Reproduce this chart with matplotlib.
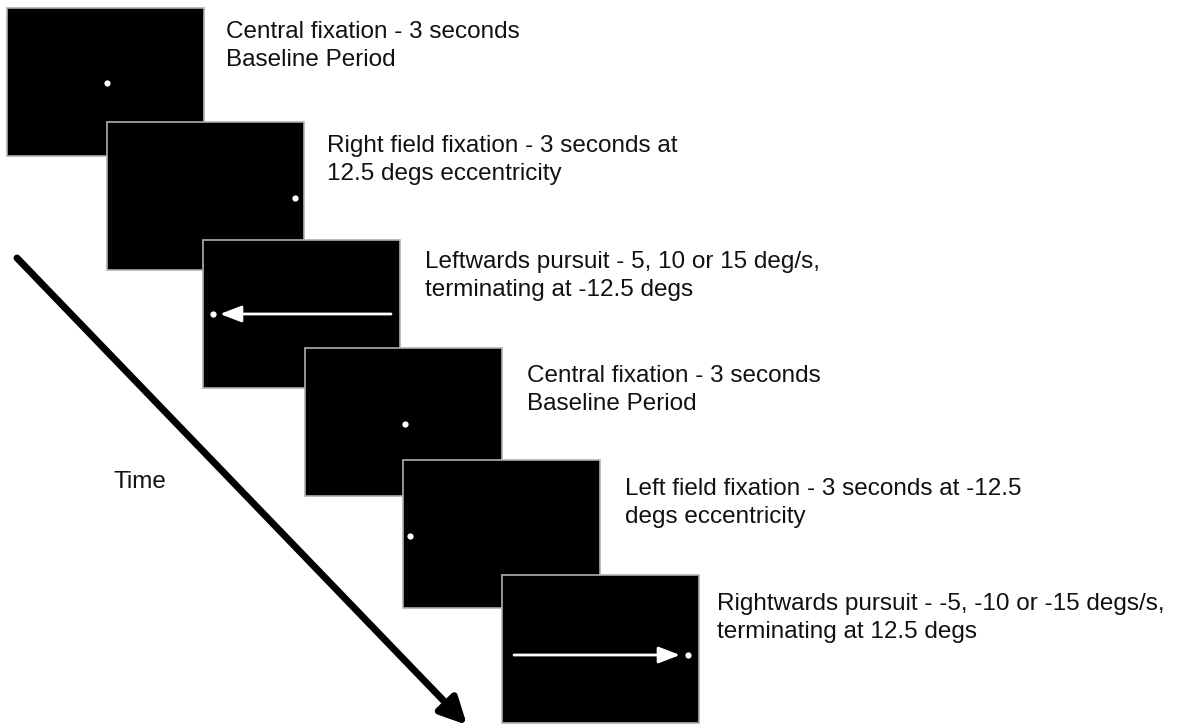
import matplotlib
matplotlib.use("Agg")
import matplotlib.pyplot as plt
from matplotlib.patches import Rectangle

plt.rcParams['font.family'] = ['Liberation Sans', 'DejaVu Sans']

# screen panels: top-left corner (px) of each stimulus frame
panel_x = [7, 107, 203, 305, 403, 502]
panel_y = [8, 122, 240, 348, 460, 575]
panel_w = 197
panel_h = 148

# target dot position in each frame
dot_x = [107, 295, 213, 405, 410, 688]
dot_y = [83, 198, 314, 424, 536, 655]

# pursuit arrows (start x, end x, y)
pursuit = [(391, 220, 314), (514, 680, 655)]

labels = [
    ("Central fixation - 3 seconds", "Baseline Period"),
    ("Right field fixation - 3 seconds at", "12.5 degs eccentricity"),
    ("Leftwards pursuit - 5, 10 or 15 deg/s,", "terminating at -12.5 degs"),
    ("Central fixation - 3 seconds", "Baseline Period"),
    ("Left field fixation - 3 seconds at -12.5", "degs eccentricity"),
    ("Rightwards pursuit - -5, -10 or -15 degs/s,", "terminating at 12.5 degs"),
]
label_x = [226, 327, 425, 527, 625, 717]
label_base = [38, 152, 268, 382, 495, 610]
line_gap = 28

fig = plt.figure(figsize=(11.8, 7.27), dpi=100)
ax = fig.add_axes([0, 0, 1, 1])
ax.set_xlim(0, 1180)
ax.set_ylim(727, 0)
ax.axis('off')

for i in range(len(panel_x)):
    ax.add_patch(Rectangle((panel_x[i], panel_y[i]), panel_w, panel_h,
                           facecolor='black', edgecolor='#b0b0b0', lw=1.2, zorder=2 + i))
    ax.plot(dot_x[i], dot_y[i], 'o', color='white', ms=4.5, mec='none', zorder=2.5 + i)
    for j, line in enumerate(labels[i]):
        ax.text(label_x[i], label_base[i] + j * line_gap, line, fontsize=17.5,
                ha='left', va='baseline', color='#111111')

for k, (x0, x1, y) in enumerate(pursuit):
    z = 5 if k == 0 else 8
    ax.annotate('', xy=(x1, y), xytext=(x0, y),
                arrowprops=dict(arrowstyle='-|>,head_length=1.3,head_width=0.5',
                                color='white', lw=2, shrinkA=0, shrinkB=0),
                zorder=z)

# time arrow
ax.annotate('', xy=(467, 725), xytext=(17, 258),
            arrowprops=dict(arrowstyle='-|>,head_length=1.6,head_width=0.8',
                            color='black', lw=5, shrinkA=0, shrinkB=0))
ax.text(113, 488, "Time", fontsize=17.5, ha='left', va='baseline', color='#111111')

fig.savefig("out.png", dpi=100, facecolor='white')
